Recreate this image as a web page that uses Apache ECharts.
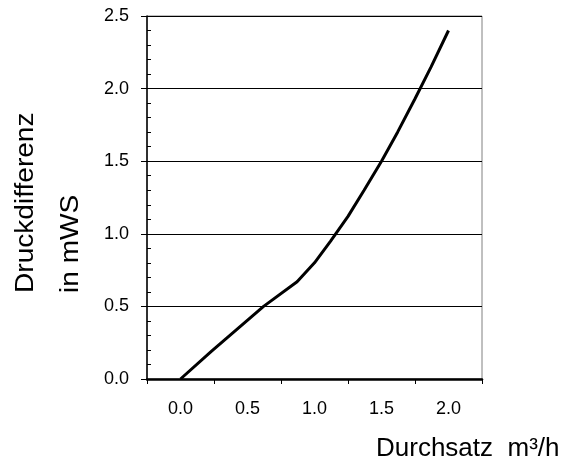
<!DOCTYPE html>
<html>
<head>
<meta charset="utf-8">
<script src="https://cdn.jsdelivr.net/npm/echarts@6/dist/echarts.min.js"></script>
<style>html,body{margin:0;padding:0;background:#fff}#c{width:562px;height:463px}</style>
</head>
<body>
<div id="c"></div>
<script>
var xCategories = ['0.0', '0.5', '1.0', '1.5', '2.0'];
var flowX = [0.0, 0.23, 0.62, 0.87, 1.0, 1.12, 1.25, 1.37, 1.5, 1.62, 1.75, 1.87, 2.0];
var pressureY = [0.0, 0.19, 0.50, 0.67, 0.80, 0.95, 1.12, 1.30, 1.50, 1.70, 1.93, 2.15, 2.40];
var yTitle1 = 'Druckdifferenz';
var yTitle2 = 'in mWS';
var xTitle = 'Durchsatz  m³/h';

var FONT = 'Liberation Sans, Arial, sans-serif';
var chart = echarts.init(document.getElementById('c'));
var lineData = flowX.map(function (x, i) { return [x, pressureY[i]]; });

chart.setOption({
  animation: false,
  backgroundColor: '#ffffff',
  grid: { left: 147, right: 80, top: 16, bottom: 84, show: true, borderColor: '#808080', borderWidth: 1, backgroundColor: 'transparent' },
  xAxis: [{
    type: 'category', data: xCategories, boundaryGap: true,
    axisLine: { onZero: false, lineStyle: { color: '#000', width: 2.5 } },
    axisTick: { show: true, length: 5, lineStyle: { color: '#000', width: 1 } },
    axisLabel: { color: '#000', fontSize: 18, fontFamily: FONT, margin: 21 },
    splitLine: { show: false }
  }, {
    type: 'value', min: -0.25, max: 2.25, show: false
  }],
  yAxis: [{
    type: 'value', min: 0, max: 2.5, interval: 0.5,
    axisLine: { show: true, onZero: false, lineStyle: { color: '#000', width: 1.5 } },
    axisTick: { show: true, length: 6, lineStyle: { color: '#000', width: 1 } },
    axisLabel: { color: '#000', fontSize: 18, fontFamily: FONT, margin: 18, formatter: function (v) { return v.toFixed(1); } },
    splitLine: { show: true, lineStyle: { color: '#000', width: 1 } }
  }, {
    type: 'value', min: 0, max: 2.5, interval: 0.5, position: 'left',
    axisLine: { show: false, onZero: false },
    axisTick: { show: false, inside: true },
    minorTick: { show: true, splitNumber: 5, length: 4, lineStyle: { color: '#000', width: 1 } },
    axisLabel: { show: false },
    splitLine: { show: false }
  }],
  series: [{
    type: 'line', xAxisIndex: 1, yAxisIndex: 0, data: lineData,
    showSymbol: false, symbol: 'none',
    lineStyle: { color: '#000', width: 3 }
  }],
  graphic: [
    { type: 'text', x: 26, y: 293, rotation: Math.PI / 2, scaleX: 1.08,
      style: { text: yTitle1, fill: '#000', font: '26px ' + FONT, textAlign: 'left', textVerticalAlign: 'middle' } },
    { type: 'text', x: 71, y: 293, rotation: Math.PI / 2, scaleX: 1.08,
      style: { text: yTitle2, fill: '#000', font: '26px ' + FONT, textAlign: 'left', textVerticalAlign: 'middle' } },
    { type: 'text', x: 376, y: 449,
      style: { text: xTitle, fill: '#000', font: '26px ' + FONT, textAlign: 'left', textVerticalAlign: 'middle' } }
  ]
});
</script>
</body>
</html>
